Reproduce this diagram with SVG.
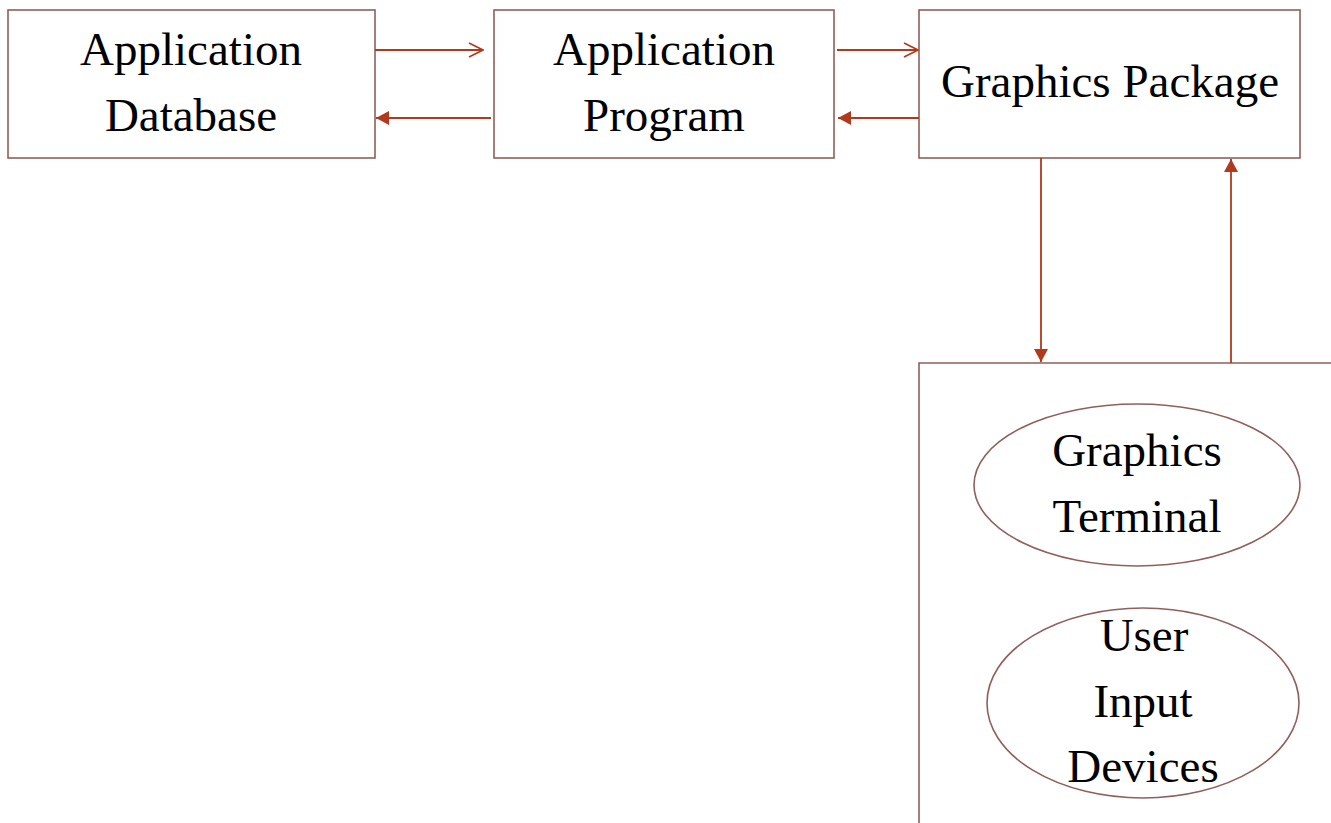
<svg xmlns="http://www.w3.org/2000/svg" width="1331" height="823" viewBox="0 0 1331 823">
  <style>
    .box { fill: #ffffff; stroke: #8f5f5c; stroke-width: 1.6; }
    .lbl { font-family: "Liberation Serif", "DejaVu Serif", serif; font-size: 47px; fill: #000000; text-anchor: middle; }
    .wire { fill: none; stroke: #b1391c; stroke-width: 1.8; }
  </style>
  <defs>
    <marker id="open" viewBox="0 0 16 16" refX="15" refY="8" markerWidth="16" markerHeight="16" markerUnits="userSpaceOnUse" orient="auto">
      <path d="M1 1 L15 8 L1 15" fill="none" stroke="#b1391c" stroke-width="1.6"/>
    </marker>
    <marker id="solid" viewBox="0 0 14 14" refX="13" refY="7" markerWidth="14" markerHeight="14" markerUnits="userSpaceOnUse" orient="auto">
      <path d="M0 0 L13 7 L0 14 Z" fill="#b1391c"/>
    </marker>
  </defs>

  <rect width="1331" height="823" fill="#ffffff"/>

  <g id="app-database">
    <rect class="box" x="8" y="10" width="367" height="148"/>
    <text class="lbl" x="191" y="65">Application</text>
    <text class="lbl" x="191" y="131">Database</text>
  </g>

  <g id="app-program">
    <rect class="box" x="494" y="10" width="340" height="148"/>
    <text class="lbl" x="664" y="65">Application</text>
    <text class="lbl" x="664" y="131">Program</text>
  </g>

  <g id="graphics-package">
    <rect class="box" x="919" y="10" width="381" height="148"/>
    <text class="lbl" x="1110" y="97">Graphics Package</text>
  </g>

  <g id="workstation">
    <path class="box" d="M1331 363 H919 V823" fill="none"/>
  </g>

  <g id="graphics-terminal">
    <ellipse class="box" cx="1137" cy="485" rx="163" ry="81"/>
    <text class="lbl" x="1137" y="466">Graphics</text>
    <text class="lbl" x="1137" y="532">Terminal</text>
  </g>

  <g id="user-input-devices">
    <ellipse class="box" cx="1143" cy="703" rx="156" ry="95"/>
    <text class="lbl" x="1144" y="651">User</text>
    <text class="lbl" x="1143" y="717">Input</text>
    <text class="lbl" x="1143" y="782">Devices</text>
  </g>

  <g id="connectors">
    <line class="wire" x1="375" y1="50" x2="483" y2="50" marker-end="url(#open)"/>
    <line class="wire" x1="491" y1="118" x2="376" y2="118" marker-end="url(#solid)"/>
    <line class="wire" x1="837" y1="50" x2="918" y2="50" marker-end="url(#open)"/>
    <line class="wire" x1="919" y1="118" x2="838" y2="118" marker-end="url(#solid)"/>
    <line class="wire" x1="1041" y1="158" x2="1041" y2="362" marker-end="url(#solid)"/>
    <line class="wire" x1="1231" y1="363" x2="1231" y2="159" marker-end="url(#solid)"/>
  </g>
</svg>
